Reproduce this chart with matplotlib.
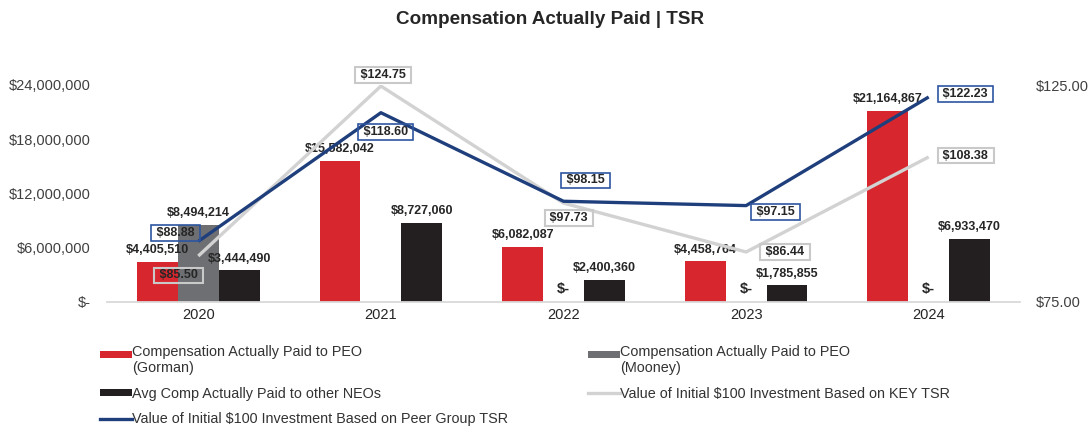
import matplotlib
matplotlib.use('Agg')
import matplotlib.pyplot as plt
import numpy as np
from matplotlib.patches import Patch, Rectangle
from matplotlib.lines import Line2D
from matplotlib.legend_handler import HandlerPatch
from matplotlib.ticker import FuncFormatter

plt.rcParams['font.family'] = ['Liberation Sans', 'DejaVu Sans']

# ---------------- data ----------------
years = ['2020', '2021', '2022', '2023', '2024']
cap_gorman = [4405510, 15582042, 6082087, 4458764, 21164867]
cap_mooney = [8494214, None, 0, 0, 0]
cap_neos = [3444490, 8727060, 2400360, 1785855, 6933470]
tsr_key = [85.50, 124.75, 97.73, 86.44, 108.38]
tsr_peer = [88.88, 118.60, 98.15, 97.15, 122.23]

left_ticks = [0, 6000000, 12000000, 18000000, 24000000]
right_ticks = [75, 125]

# label offsets (points) for the TSR value boxes
key_offsets = [(-14, -14), (1.5, 8), (4, -11), (28, 0), (26.5, 1)]
peer_offsets = [(-16.5, 6), (3.5, -14), (16, 15), (21.5, -4.5), (26.5, 2)]

RED = '#D8262E'
GREY = '#6E6F72'
BLACK = '#231F20'
LGREY = '#D2D2D2'
BLUE = '#1F3F7C'
BOXBLUE = '#2E55A0'
TXT = '#262626'

fig = plt.figure(figsize=(10.89, 4.28), dpi=100)
W, H = 1089, 428
ax = fig.add_axes([107 / W, 1 - 301.5 / H, (1020 - 107) / W, (301.5 - 85) / H])

x = np.arange(len(years))
bw = 0.224
mooney_h = [np.nan if v is None else v for v in cap_mooney]
b1 = ax.bar(x - bw, cap_gorman, bw, color=RED, zorder=2)
b2 = ax.bar(x, mooney_h, bw, color=GREY, zorder=2)
b3 = ax.bar(x + bw, cap_neos, bw, color=BLACK, zorder=2)

ax.set_xlim(-0.5, 4.5)
ax.set_ylim(0, 24000000)
ax.set_yticks(left_ticks)
ax.yaxis.set_major_formatter(FuncFormatter(lambda v, p: '$-' if v == 0 else f'${v:,.0f}'))
ax.set_xticks(x)
ax.set_xticklabels(years)
ax.tick_params(axis='y', length=0, pad=11.5, labelsize=10.5, labelcolor='#404040')
ax.tick_params(axis='x', length=0, pad=5, labelsize=10.5, labelcolor=TXT)
for s in ['top', 'left', 'right']:
    ax.spines[s].set_visible(False)
ax.spines['bottom'].set_color('#D9D9D9')
ax.spines['bottom'].set_linewidth(1.3)

for bars, vals in [(b1, cap_gorman), (b2, cap_mooney), (b3, cap_neos)]:
    for r, v in zip(bars, vals):
        if v is None:
            continue
        if v == 0:
            ax.annotate('$-', (r.get_x() + r.get_width() / 2, 0), xytext=(0, 4),
                        textcoords='offset points', ha='center', va='bottom',
                        fontsize=10.5, fontweight='bold', color=TXT, zorder=3)
        else:
            ax.annotate(f'${v:,.0f}', (r.get_x() + r.get_width() / 2, v), xytext=(0, 4),
                        textcoords='offset points', ha='center', va='bottom',
                        fontsize=9, fontweight='bold', color=TXT, zorder=3)

ax2 = ax.twinx()
ax2.set_ylim(75, 125)
ax2.set_yticks(right_ticks)
ax2.yaxis.set_major_formatter(FuncFormatter(lambda v, p: f'${v:,.2f}'))
ax2.tick_params(axis='y', length=0, pad=11.5, labelsize=10.5, labelcolor='#404040')
for s in ['top', 'left', 'right', 'bottom']:
    ax2.spines[s].set_visible(False)

ax2.plot(x, tsr_key, color=LGREY, lw=2.4, zorder=2, solid_capstyle='butt')
ax2.plot(x, tsr_peer, color=BLUE, lw=2.4, zorder=3, solid_capstyle='butt')

for xi, v, off in zip(x, tsr_key, key_offsets):
    ax2.annotate(f' ${v:,.2f} ', (xi, v), xytext=off, textcoords='offset points',
                 ha='center', va='center', fontsize=9, fontweight='bold', color=TXT,
                 bbox=dict(boxstyle='square,pad=0.15', fc='none', ec='#C9C9C9', lw=1.5),
                 zorder=5)
for xi, v, off in zip(x, tsr_peer, peer_offsets):
    ax2.annotate(f' ${v:,.2f} ', (xi, v), xytext=off, textcoords='offset points',
                 ha='center', va='center', fontsize=9, fontweight='bold', color=TXT,
                 bbox=dict(boxstyle='square,pad=0.15', fc='none', ec=BOXBLUE, lw=1.2),
                 zorder=5)

fig.text(550 / W, 1 - 20 / H, 'Compensation Actually Paid | TSR', ha='center', va='center',
         fontsize=13.6, fontweight='bold', color=TXT)


def top_patch(legend, orig_handle, xdescent, ydescent, width, height, fontsize):
    return Rectangle((-xdescent, -ydescent + 0.42 * fontsize), width, height)


h_red = Patch(facecolor=RED, edgecolor='none')
h_grey = Patch(facecolor=GREY, edgecolor='none')
handles = [h_red,
           Patch(facecolor=BLACK, edgecolor='none'),
           Line2D([], [], color=BLUE, lw=2.4),
           h_grey,
           Line2D([], [], color=LGREY, lw=2.4)]
labels = ['Compensation Actually Paid to PEO\n(Gorman)',
          'Avg Comp Actually Paid to other NEOs',
          'Value of Initial $100 Investment Based on Peer Group TSR',
          'Compensation Actually Paid to PEO\n(Mooney)',
          'Value of Initial $100 Investment Based on KEY TSR']
fig.legend(handles, labels, ncol=2, loc='upper left', bbox_to_anchor=(100 / W, 1 - 345 / H),
           frameon=False, fontsize=10.4, handlelength=2.2, handleheight=0.45,
           handletextpad=0.05, columnspacing=5.5, labelspacing=0.8, borderpad=0,
           borderaxespad=0, labelcolor='#333333',
           handler_map={h_red: HandlerPatch(patch_func=top_patch),
                        h_grey: HandlerPatch(patch_func=top_patch)})

fig.savefig('out.png', dpi=100)
